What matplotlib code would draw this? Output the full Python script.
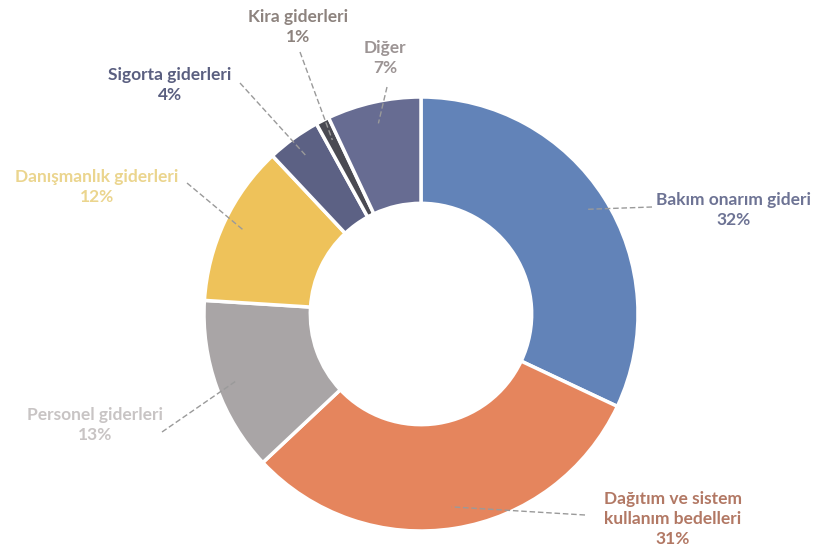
import numpy as np
import matplotlib.pyplot as plt

labels = ['Bakım onarım gideri', 'Dağıtım ve sistem\nkullanım bedelleri',
          'Personel giderleri', 'Danışmanlık giderleri', 'Sigorta giderleri',
          'Kira giderleri', 'Diğer']
values = [32, 31, 13, 12, 4, 1, 7]

colors = ['#6283b8', '#e5855d', '#a9a5a6', '#eec25a', '#5c6184', '#4a4a52', '#676c92']
text_colors = ['#6d7394', '#b27864', '#c8c4c4', '#ebd58e', '#5a5f80', '#8d837e', '#9c9494']
# label centre (pixels from top-left), leader start point
label_pos = [(734, 210), (673, 519), (95, 425), (97, 187), (170, 85), (298, 27), (385, 58)]
leader_start = [(652, 207), (585, 515), (162, 432), (187, 183), (240, 83), (300, 52), (387, 87)]

W, H = 815, 560
cx, cy, R = 421, 314, 217

fig = plt.figure(figsize=(W / 100, H / 100), dpi=100)
ax = fig.add_axes([0, 0, 1, 1])
ax.axis('off')

wedges, _ = ax.pie(values, colors=colors, startangle=90, counterclock=False,
                   radius=R, center=(cx, H - cy),
                   wedgeprops=dict(width=R * 0.49, edgecolor='white', linewidth=2.5))
ax.set_xlim(0, W)
ax.set_ylim(0, H)
ax.set_aspect('equal')

for w, lab, v, tc, (tx, ty), (sx, sy) in zip(wedges, labels, values, text_colors,
                                              label_pos, leader_start):
    ang = np.deg2rad((w.theta1 + w.theta2) / 2)
    ex = cx + R * 0.9 * np.cos(ang)
    ey = (H - cy) + R * 0.9 * np.sin(ang)
    ax.plot([sx, ex], [H - sy, ey], color='#9a9a9a', lw=1, ls=(0, (4, 2)))
    ax.text(tx, H - ty, f'{lab}\n{v}%', ha='center', va='center', color=tc,
            fontsize=12.5, fontweight='bold', family='Lato', linespacing=1.3)

fig.savefig('out.png', dpi=100)
